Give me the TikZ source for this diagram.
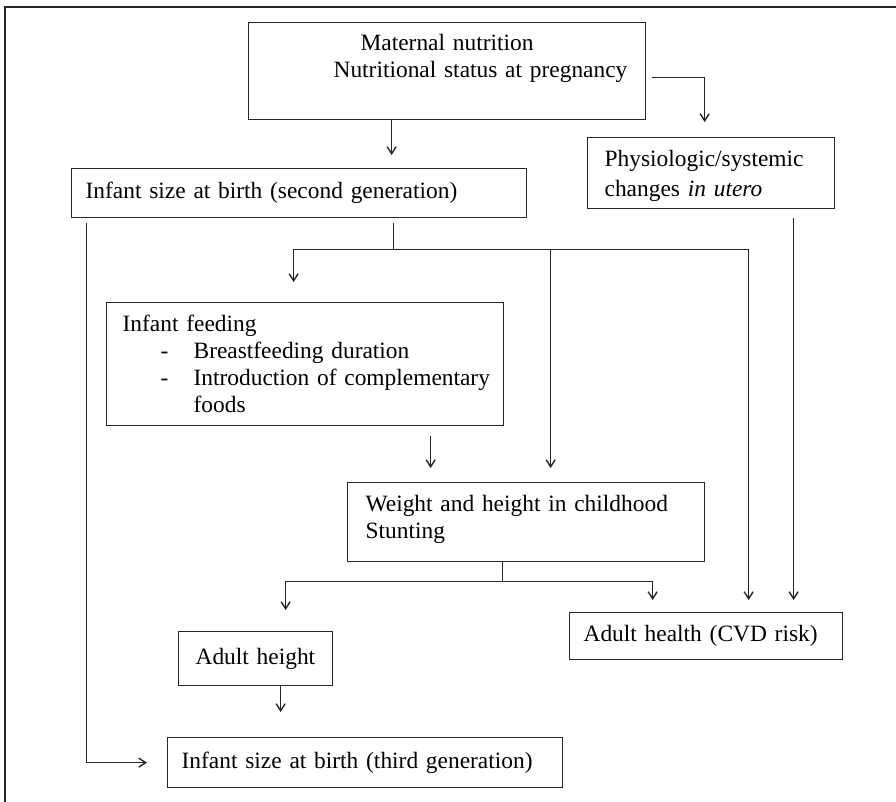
\documentclass[tikz,border=0pt]{standalone}
\usepackage{fontspec}
\setmainfont{Liberation Serif}
\usetikzlibrary{arrows.meta, positioning}

\begin{document}
\begin{tikzpicture}[x=0.5pt, y=-0.5pt,
    box/.style={draw=black!85, line width=0.65pt, anchor=north west, align=left,
      inner xsep=7pt, font=\fontsize{11.7}{13.5}\selectfont},
    link/.style={draw=black!85, line width=0.5pt},
    arr/.style={link, -{Straight Barb[length=3.5pt,width=4.5pt,line width=0.7pt]}}]
  \useasboundingbox (0,0) rectangle (896,802);
  \draw[line width=0.9pt, black!85] (5,802) -- (5,7) -- (896,7);

  % boxes
  \node[box, text width=184.5pt, minimum height=48.5pt] (mat) at (248,22)
    {\hspace*{49pt}Maternal nutrition\\
     \hspace*{35.5pt}Nutritional status at pregnancy\rule[-15pt]{0pt}{15pt}};
  \node[box, text width=213.5pt, minimum height=24.5pt] (inf2) at (71,168)
    {Infant size at birth (second generation)};
  \node[box, text width=109.5pt, minimum height=35.5pt] (phys) at (587,137)
    {\rule{0pt}{11pt}\hspace*{1.5pt}Physiologic/systemic\\[1.5pt]
     \hspace*{1.5pt}changes \textit{in utero}};
  \node[box, text width=184.5pt, minimum height=61.5pt] (feed) at (106,302)
    {\hspace*{1pt}Infant feeding\\
     \hspace*{20pt}\makebox[16.5pt][l]{-}Breastfeeding duration\\
     \hspace*{20pt}\makebox[16.5pt][l]{-}\mbox{Introduction of complementary}\\
     \hspace*{36.5pt}foods};
  \node[box, text width=164.5pt, minimum height=39.5pt] (wgt) at (347,482)
    {\hspace*{2pt}Weight and height in childhood\\
     \hspace*{2pt}Stunting\rule[-5pt]{0pt}{5pt}};
  \node[box, text width=63pt, minimum height=27pt] (aht) at (178,631)
    {\hspace*{1.5pt}Adult height};
  \node[box, text width=122.5pt, minimum height=23.5pt] (ahl) at (569,612)
    {Adult health (CVD risk)};
  \node[box, text width=183.5pt, minimum height=25pt] (inf3) at (167,737)
    {Infant size at birth (third generation)};

  % connectors
  \draw[arr, shorten >=6.5pt] ([xshift=-27.75pt]mat.south) coordinate (m1) -- (m1 |- inf2.north);
  \draw[arr, shorten <=3pt, shorten >=7.5pt] ([yshift=-3.25pt]mat.east) -| ([xshift=-3.25pt]phys.north);

  \coordinate (j1) at ([xshift=47.25pt,yshift=-15.5pt]inf2.south);
  \draw[link, shorten <=2.5pt] (j1 |- inf2.south) -- (j1);
  \draw[arr, shorten >=10pt] (j1) -| ([xshift=-5.75pt]feed.north);
  \draw[arr, shorten >=7pt] (j1) -| ([xshift=12.25pt]wgt.north);
  \draw[arr, shorten >=6pt] (j1) -| ([xshift=21.25pt]ahl.north);

  \draw[arr, shorten <=5pt, shorten >=7pt] ([xshift=62.75pt]feed.south) coordinate (f1) -- (f1 |- wgt.north);
  \draw[arr, shorten <=4.5pt, shorten >=6pt] ([xshift=41.25pt]phys.south) coordinate (p1) -- (p1 |- ahl.north);

  \coordinate (j2) at ([xshift=-11.75pt,yshift=-9.5pt]wgt.south);
  \draw[link] (j2 |- wgt.south) -- (j2);
  \draw[arr, shorten >=10.5pt] (j2) -| ([xshift=15pt]aht.north);
  \draw[arr, shorten >=6pt] (j2) -| ([xshift=-26.75pt]ahl.north);

  \draw[arr, shorten >=12.5pt] ([xshift=12.5pt]aht.south) coordinate (a1) -- (a1 |- inf3.north);
  \draw[arr, shorten <=2.5pt, shorten >=10pt] ([xshift=7.5pt]inf2.south west) |- (inf3.west);
\end{tikzpicture}
\end{document}
